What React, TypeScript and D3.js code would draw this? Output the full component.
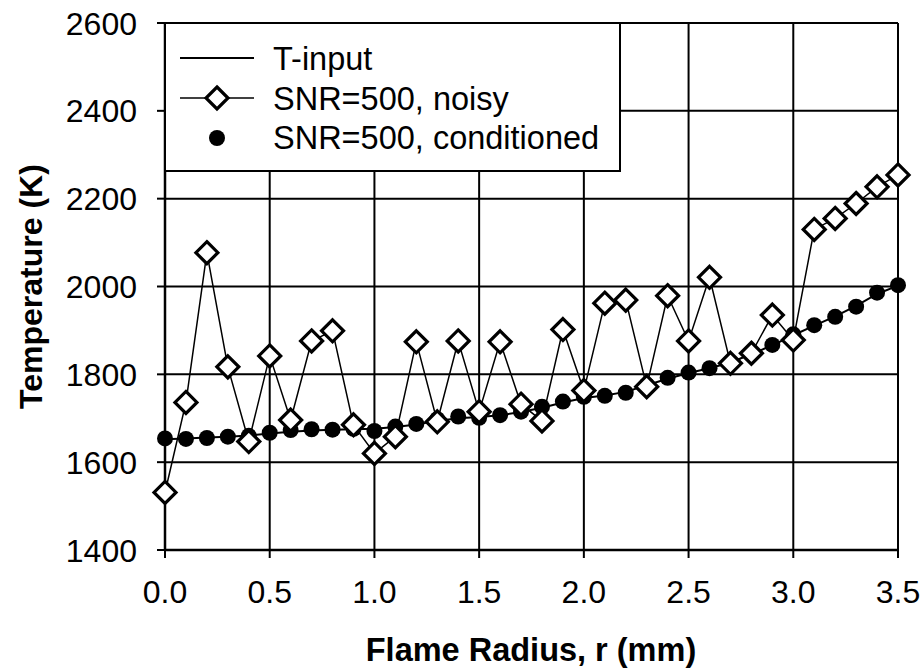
import React from "react";
import * as d3 from "d3";

const radius = [0.0,0.1,0.2,0.3,0.4,0.5,0.6,0.7,0.8,0.9,1.0,1.1,1.2,1.3,1.4,1.5,1.6,1.7,1.8,1.9,2.0,2.1,2.2,2.3,2.4,2.5,2.6,2.7,2.8,2.9,3.0,3.1,3.2,3.3,3.4,3.5];
const noisy = [1531,1736,2077,1817,1647,1842,1696,1876,1899,1685,1620,1658,1874,1692,1876,1715,1874,1732,1694,1902,1763,1962,1969,1772,1979,1876,2021,1825,1848,1935,1878,2130,2155,2189,2227,2254];
const conditioned = [1654,1653,1655,1658,1660,1667,1673,1675,1674,1676,1671,1681,1687,1698,1704,1701,1707,1715,1726,1738,1749,1751,1758,1776,1792,1804,1814,1825,1848,1867,1891,1912,1931,1954,1986,2003];
const tInput = [1652,1654,1656,1658,1661,1665,1669,1672,1674,1675,1676,1680,1686,1694,1700,1703,1707,1714,1724,1736,1746,1752,1760,1775,1790,1803,1814,1827,1846,1866,1889,1911,1932,1956,1983,2002];
const xTicks = [0,0.5,1.0,1.5,2.0,2.5,3.0,3.5];
const yTicks = [1400,1600,1800,2000,2200,2400,2600];
const legendLabels = ["T-input","SNR=500, noisy","SNR=500, conditioned"];

const W = 924, H = 670;
const L = 165, R = 898, T = 23, B = 550;

export default function App() {
  const x = d3.scaleLinear().domain([0, 3.5]).range([L, R]);
  const y = d3.scaleLinear().domain([1400, 2600]).range([B, T]);
  const line = d3.line<number>().x((_, i) => x(radius[i])).y((d) => y(d));
  const font = "Arial, 'Liberation Sans', sans-serif";
  const diamond = (cx: number, cy: number, s: number) =>
    `M${cx},${cy - s}L${cx + s},${cy}L${cx},${cy + s}L${cx - s},${cy}Z`;

  return (
    <svg width={W} height={H} style={{ position: "absolute", left: 0, top: 0, background: "#fff" }} fontFamily={font}>
      <rect x={0} y={0} width={W} height={H} fill="#fff" />
      {yTicks.map((t) => (
        <line key={"gy" + t} x1={L} x2={R} y1={y(t)} y2={y(t)} stroke="#000" strokeWidth={2} />
      ))}
      {xTicks.map((t) => (
        <line key={"gx" + t} x1={x(t)} x2={x(t)} y1={T} y2={B} stroke="#000" strokeWidth={2} />
      ))}
      <line x1={L} x2={L} y1={T} y2={B} stroke="#000" strokeWidth={2.5} />
      <line x1={L} x2={R} y1={B} y2={B} stroke="#000" strokeWidth={2.5} />
      {yTicks.map((t) => (
        <g key={"ty" + t}>
          <line x1={L - 8} x2={L} y1={y(t)} y2={y(t)} stroke="#000" strokeWidth={2} />
          <text x={137} y={y(t)} dy="0.36em" textAnchor="end" fontSize={32}>{t}</text>
        </g>
      ))}
      {xTicks.map((t) => (
        <g key={"tx" + t}>
          <line x1={x(t)} x2={x(t)} y1={B} y2={B + 8} stroke="#000" strokeWidth={2} />
          <text x={x(t)} y={603} textAnchor="middle" fontSize={32}>{t.toFixed(1)}</text>
        </g>
      ))}
      <text x={531} y={661} textAnchor="middle" fontSize={32.5} fontWeight="bold">Flame Radius, r (mm)</text>
      <text transform={`translate(42,${(T + B) / 2}) rotate(-90)`} textAnchor="middle" fontSize={32} fontWeight="bold">Temperature (K)</text>
      <path d={line(tInput) || ""} fill="none" stroke="#000" strokeWidth={2} />
      <path d={line(noisy) || ""} fill="none" stroke="#000" strokeWidth={1.5} />
      {conditioned.map((v, i) => (
        <circle key={"c" + i} cx={x(radius[i])} cy={y(v)} r={8} fill="#000" />
      ))}
      {noisy.map((v, i) => (
        <path key={"n" + i} d={diamond(x(radius[i]), y(v), 11)} fill="#fff" stroke="#000" strokeWidth={3.2} />
      ))}
      <rect x={L} y={T} width={455} height={148} fill="#fff" stroke="#000" strokeWidth={2} />
      <line x1={180} x2={254} y1={58} y2={58} stroke="#000" strokeWidth={2} />
      <line x1={180} x2={254} y1={98} y2={98} stroke="#000" strokeWidth={1.5} />
      <path d={diamond(217, 98, 11)} fill="#fff" stroke="#000" strokeWidth={3.2} />
      <circle cx={217} cy={138} r={8} fill="#000" />
      {legendLabels.map((s, i) => (
        <text key={s} x={273} y={70 + i * 39.5} fontSize={32.5}>{s}</text>
      ))}
    </svg>
  );
}
